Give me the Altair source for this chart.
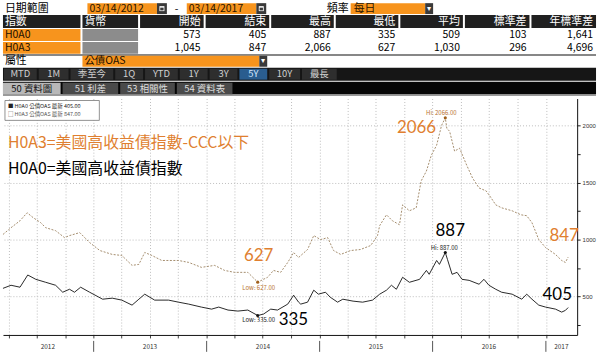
import altair as alt
import pandas as pd

# ---------------- data ----------------
H0A0_DATES = [
    "2012-03-14", "2012-04-09", "2012-05-08", "2012-06-02", "2012-06-28", "2012-07-30",
    "2012-08-31", "2012-09-23", "2012-10-15", "2012-10-31", "2012-11-20", "2012-12-19",
    "2013-01-30", "2013-03-02", "2013-04-02", "2013-05-05", "2013-05-27", "2013-06-15",
    "2013-07-17", "2013-08-31", "2013-10-02", "2013-11-04", "2013-12-15", "2014-01-17",
    "2014-02-09", "2014-03-11", "2014-04-12", "2014-05-14", "2014-06-15", "2014-07-04",
    "2014-07-27", "2014-08-18", "2014-09-20", "2014-10-09", "2014-10-25", "2014-11-01",
    "2014-11-23", "2014-12-13", "2014-12-28", "2015-01-20", "2015-02-04", "2015-02-28",
    "2015-03-17", "2015-04-19", "2015-05-20", "2015-06-21", "2015-07-14", "2015-08-05",
    "2015-08-21", "2015-09-06", "2015-09-26", "2015-10-18", "2015-11-20", "2015-12-12",
    "2015-12-21", "2016-01-14", "2016-01-23", "2016-02-11", "2016-02-18", "2016-03-04",
    "2016-03-20", "2016-04-05", "2016-04-28", "2016-05-30", "2016-06-15", "2016-07-01",
    "2016-07-23", "2016-08-11", "2016-09-14", "2016-10-15", "2016-10-31", "2016-11-17",
    "2016-12-09", "2016-12-31", "2017-02-01", "2017-02-21", "2017-03-05", "2017-03-14",
]
H0A0_VALUES = [
    573, 600, 583, 690, 652, 626,
    600, 539, 565, 539, 583, 539,
    478, 487, 470, 426, 478, 522,
    470, 470, 452, 435, 409, 391,
    409, 383, 374, 383, 335, 348,
    391, 383, 435, 513, 452, 435,
    452, 557, 522, 539, 496, 452,
    478, 461, 452, 470, 522, 557,
    600, 565, 670, 626, 652, 730,
    696, 817, 783, 887, 826, 696,
    713, 652, 643, 609, 652, 600,
    565, 539, 522, 478, 522, 478,
    426, 409, 391, 365, 380, 405,
]
H0A3_DATES = [
    "2012-03-14", "2012-04-09", "2012-05-08", "2012-05-31", "2012-06-20", "2012-07-14",
    "2012-07-30", "2012-08-31", "2012-09-29", "2012-10-15", "2012-11-17", "2012-12-19",
    "2013-01-21", "2013-03-02", "2013-04-02", "2013-05-05", "2013-05-27", "2013-06-15",
    "2013-07-08", "2013-08-09", "2013-10-02", "2013-11-04", "2013-12-15", "2014-01-27",
    "2014-02-28", "2014-04-01", "2014-05-14", "2014-06-15", "2014-07-17", "2014-08-05",
    "2014-08-28", "2014-09-20", "2014-10-09", "2014-10-25", "2014-11-23", "2014-12-13",
    "2015-01-04", "2015-01-27", "2015-02-15", "2015-03-10", "2015-04-11", "2015-05-13",
    "2015-06-15", "2015-07-07", "2015-07-14", "2015-08-05", "2015-08-24", "2015-09-16",
    "2015-09-26", "2015-10-18", "2015-11-09", "2015-11-25", "2015-12-12", "2015-12-28",
    "2016-01-14", "2016-01-30", "2016-02-11", "2016-02-16", "2016-02-25", "2016-03-12",
    "2016-03-28", "2016-04-20", "2016-05-09", "2016-05-30", "2016-06-22", "2016-07-08",
    "2016-07-23", "2016-08-11", "2016-09-14", "2016-10-12", "2016-10-31", "2016-11-17",
    "2016-12-09", "2016-12-31", "2017-02-01", "2017-02-21", "2017-03-05", "2017-03-14",
]
H0A3_VALUES = [
    1045, 1104, 1165, 1235, 1191, 1148,
    1104, 1078, 1017, 1035, 1061, 974,
    904, 870, 861, 774, 783, 887,
    861, 817, 817, 800, 757, 774,
    730, 713, 713, 627, 670, 730,
    713, 800, 887, 843, 913, 1035,
    1000, 1017, 904, 870, 904, 913,
    948, 1035, 1122, 1217, 1165, 1130,
    1304, 1252, 1278, 1513, 1600, 1739,
    1826, 2000, 2066, 1974, 1948, 1774,
    1800, 1652, 1539, 1452, 1426, 1365,
    1304, 1278, 1252, 1217, 1209, 1148,
    1000, 930, 870, 817, 800, 847,
]

SERIES = ["H0A0", "H0A3"]
TABLE_HEADERS = ["指數", "貨幣", "開始", "結束", "最高", "最低", "平均", "標準差", "年標準差"]
START_VALS = ["573", "1,045"]
END_VALS = ["405", "847"]
HIGH_VALS = ["887", "2,066"]
LOW_VALS = ["335", "627"]
AVG_VALS = ["509", "1,030"]
STD_VALS = ["103", "296"]
ANN_STD_VALS = ["1,641", "4,696"]
DATE_FROM = "03/14/2012"
DATE_TO = "03/14/2017"
FREQ_LABEL = "頻率"
FREQ = "每日"
RANGE_LABEL = "日期範圍"
FIELD_LABEL = "屬性"
FIELD = "公債OAS"
PERIOD_BUTTONS = ["MTD", "1M", "季至今", "1Q", "YTD", "1Y", "3Y", "5Y", "10Y", "最長"]
ACTIVE_PERIOD = "5Y"
TABS = ["50 資料圖", "51 利差", "53 相關性", "54 資料表"]
ACTIVE_TAB = "50 資料圖"
HEADINGS = ["H0A3=美國高收益債指數-CCC以下", "H0A0=美國高收益債指數"]
LEGEND_LINES = ["■ H0A0 公債OAS 最新  405.00", "□ H0A3 公債OAS 最新  847.00"]
YEAR_LABELS = ["2012", "2013", "2014", "2015", "2016", "2017"]
YEAR_LABEL_DATES = ["2012-08-06", "2013-07-02", "2014-07-02", "2015-07-02", "2016-07-01", "2017-02-20"]
YEAR_STARTS = ["2013-01-01", "2014-01-01", "2015-01-01", "2016-01-01", "2017-01-01"]

# ---------------- style / layout ----------------
CJK = "Noto Sans CJK TC"
ORANGE = "#F7941D"
TXT_ORANGE = "#E07F30"
DARK = "#202020"
LINE3_COLOR = "#a48d6e"

COL_X = [(0, 78), (80, 136), (138, 202), (204, 268), (270, 333),
         (335, 398), (400, 463), (465, 530), (532, 597)]
ROW_Y = [(27, 39), (40, 52)]
BTN_X = [(1, 34), (36, 66), (68, 111), (113, 141), (143, 176), (178, 206),
         (208, 236), (238, 266), (268, 299), (301, 336)]
TAB_X = [(0, 58), (60, 116), (118, 173), (175, 231)]

rects, texts = [], []


def R(x, x2, y, y2, fill):
    rects.append(dict(x=x, x2=x2, y=y, y2=y2, fill=fill))


def T(text, x, y, color="#000000", align="left", size=10.5):
    texts.append(dict(text=text, x=x, y=y, color=color, align=align, size=size))


# row 0 : date range / frequency
T(RANGE_LABEL, 2, 6.5, size=11)
R(85, 155, 1, 12, ORANGE); T(DATE_FROM, 87, 6.5, "#2a1500")
R(155, 165, 1, 12, "#3a3a3a"); R(157.5, 162.5, 4, 9, "#ffffff"); R(158.3, 161.7, 5.5, 8.3, "#3a3a3a")
T("-", 173, 6.5)
R(185, 255, 1, 12, ORANGE); T(DATE_TO, 187, 6.5, "#2a1500")
R(255, 265, 1, 12, "#3a3a3a"); R(257.5, 262.5, 4, 9, "#ffffff"); R(258.3, 261.7, 5.5, 8.3, "#3a3a3a")
T(FREQ_LABEL, 326, 6.5, size=11)
R(350, 425, 1, 12, ORANGE); T(FREQ, 353, 6.5, "#2a1500", size=11)
R(425, 433, 1, 12, "#3a3a3a"); T("▾", 429, 6.5, "#ffffff", "center", 8)

# rows 1-3 : statistics table
for i, (h, (x0, x1)) in enumerate(zip(TABLE_HEADERS, COL_X)):
    R(x0, x1, 13, 26, DARK)
    if i < 2:
        T(h, x0 + 2, 19.5, "#ffffff", "left", 11)
    else:
        T(h, x1 - 3, 19.5, "#ffffff", "right", 11)
value_cols = [START_VALS, END_VALS, HIGH_VALS, LOW_VALS, AVG_VALS, STD_VALS, ANN_STD_VALS]
for r, name in enumerate(SERIES):
    y0, y1 = ROW_Y[r]
    yc = (y0 + y1) / 2
    R(COL_X[0][0], COL_X[0][1], y0, y1, ORANGE)
    T(name, 2, yc, "#1a0f00")
    R(COL_X[1][0], COL_X[1][1], y0, y1, "#8c8c8c")
    for vals, (x0, x1) in zip(value_cols, COL_X[2:]):
        T(vals[r], x1 - 3, yc, "#000000", "right")
R(0, 597, 52.6, 53.6, "#111111")

# row 4 : field
T(FIELD_LABEL, 2, 59.5, size=11)
R(80, 258, 54, 65, ORANGE); T(FIELD, 82, 59.5, "#1a0f00")
R(258, 266, 54, 65, "#3a3a3a"); T("▾", 262, 59.5, "#ffffff", "center", 8)

# row 5 : period buttons
R(0, 597, 66, 79, "#161616")
for b, (x0, x1) in zip(PERIOD_BUTTONS, BTN_X):
    active = b == ACTIVE_PERIOD
    R(x0, x1, 67, 78, "#2a5d8f" if active else "#2e2e2e")
    T(b, (x0 + x1) / 2, 72.5, "#d6e8ff" if active else "#d0d0d0", "center", 9.5)

# row 6 : tabs
R(0, 597, 80, 93, "#060606")
for t, (x0, x1) in zip(TABS, TAB_X):
    active = t == ACTIVE_TAB
    R(x0, x1, 81, 93, "#b8b8b8" if active else "#4a4a4a")
    T(t, (x0 + x1) / 2, 87, "#111111" if active else "#dddddd", "center", 9.5)
R(0, 597, 93, 94.5, "#9a9a9a")

PX = alt.Scale(domain=[0, 600], nice=False, zero=False)
PY = alt.Scale(domain=[0, 95], nice=False, zero=False, reverse=True)

rect_df = pd.DataFrame(rects)
text_df = pd.DataFrame(texts)

top_layers = [
    alt.Chart(rect_df).mark_rect().encode(
        x=alt.X("x:Q", scale=PX, axis=None), x2="x2:Q",
        y=alt.Y("y:Q", scale=PY, axis=None), y2="y2:Q",
        color=alt.Color("fill:N", scale=None),
    )
]
for (align, size), sub in text_df.groupby(["align", "size"]):
    top_layers.append(
        alt.Chart(sub).mark_text(align=align, baseline="middle", fontSize=float(size), font=CJK).encode(
            x=alt.X("x:Q", scale=PX, axis=None),
            y=alt.Y("y:Q", scale=PY, axis=None),
            text="text:N",
            color=alt.Color("color:N", scale=None),
        )
    )
top = alt.layer(*top_layers).properties(width=600, height=95)

# ---------------- main chart ----------------
df0 = pd.DataFrame({"date": H0A0_DATES, "value": H0A0_VALUES})
df3 = pd.DataFrame({"date": H0A3_DATES, "value": H0A3_VALUES})

QUARTER_TICKS = [alt.DateTime(year=y, month=m, date=1, utc=True)
                 for y in range(2012, 2018) for m in (1, 4, 7, 10)
                 if (y, m) > (2012, 3) and (y, m) < (2017, 4)]

X_ENC = alt.X(
    "date:T",
    title=None,
    scale=alt.Scale(domain=[alt.DateTime(year=2012, month=3, date=14, utc=True),
                            alt.DateTime(year=2017, month=4, date=12, utc=True)]),
    axis=alt.Axis(values=QUARTER_TICKS, labels=False, title=None, tickSize=3,
                  tickColor="#444444", domainColor="#111111", grid=True,
                  gridColor="#bdbdbd", gridDash=[1, 2]),
)
Y_ENC = alt.Y(
    "value:Q",
    title=None,
    scale=alt.Scale(domain=[165, 2235], nice=False, zero=False),
    axis=alt.Axis(orient="right", values=[250, 500, 750, 1000, 1250, 1500, 1750, 2000],
                  format="d", labelExpr="datum.value % 500 == 0 ? datum.label : ''",
                  labelFontSize=6, labelColor="#333333", labelPadding=2, tickSize=3,
                  tickColor="#222222", domainColor="#111111", grid=True, gridColor="#bdbdbd",
                  gridDash=[1, 2],
                  gridOpacity={"condition": {"test": "datum.value % 500 === 0", "value": 1}, "value": 0},
                  title=None),
)

line3 = alt.Chart(df3).mark_line(color=LINE3_COLOR, strokeWidth=1, strokeDash=[2, 1.5]).encode(x=X_ENC, y=Y_ENC)
line0 = alt.Chart(df0).mark_line(color="#111111", strokeWidth=0.9).encode(x=X_ENC, y=Y_ENC)

hi0 = df0.loc[[df0["value"].idxmax()]]
lo0 = df0.loc[[df0["value"].idxmin()]]
hi3 = df3.loc[[df3["value"].idxmax()]]
lo3 = df3.loc[[df3["value"].idxmin()]]
end0 = df0.iloc[[-1]]
end3 = df3.iloc[[-1]]


def dot(d, color):
    return alt.Chart(d).mark_circle(size=10, color=color, opacity=1).encode(x=X_ENC, y=Y_ENC)


def label(d, text, color, dx, dy, size, font=CJK):
    dd = d.assign(label=text)
    return alt.Chart(dd).mark_text(color=color, dx=dx, dy=dy, fontSize=size, font=font,
                                   align="center", baseline="middle").encode(
        x=X_ENC, y=Y_ENC, text="label:N")


def small(d, prefix):
    return f"{prefix}: {float(d['value'].iloc[0]):.2f}"


def big(d):
    return str(int(d["value"].iloc[0]))


ann_layers = [
    dot(hi3, "#a0601e"), dot(lo3, "#a0601e"), dot(hi0, "#111111"), dot(lo0, "#111111"),
    label(hi3, small(hi3, "Hi"), "#b8732f", -4, -5, 6),
    label(lo3, small(lo3, "Low"), "#b8732f", 1, 6, 6),
    label(hi0, small(hi0, "Hi"), "#222222", -1, -5, 6),
    label(lo0, small(lo0, "Low"), "#222222", 1, 5, 6),
    label(hi3, big(hi3), TXT_ORANGE, -29, 10, 17, "Lato"),
    label(lo3, big(lo3), TXT_ORANGE, 1, -26, 17, "Lato"),
    label(hi0, big(hi0), "#000000", 5, -22, 17, "Lato"),
    label(lo0, big(lo0), "#000000", 36, 5, 17, "Lato"),
    label(end0, big(end0), "#000000", -11, -13, 17, "Lato"),
    label(end3, big(end3), TXT_ORANGE, -4, -21, 17, "Lato"),
]

one = pd.DataFrame({"k": [0]})
legend_box = alt.Chart(one).mark_rect(fill="#ffffff", stroke="#777777", strokeWidth=0.8).encode(
    x=alt.value(2), x2=alt.value(97), y=alt.value(2), y2=alt.value(22))


def fixed_text(text, x, y, size, color):
    return alt.Chart(pd.DataFrame({"t": [text]})).mark_text(
        align="left", baseline="middle", fontSize=size, font=CJK, color=color).encode(
        x=alt.value(x), y=alt.value(y), text="t:N")


legend_texts = [fixed_text(LEGEND_LINES[0], 5, 7.5, 5.5, "#222222"),
                fixed_text(LEGEND_LINES[1], 5, 15.5, 5.5, "#555555")]
headings = [fixed_text(HEADINGS[0], 5, 45, 16, TXT_ORANGE),
            fixed_text(HEADINGS[1], 5, 71, 16, "#000000")]

year_labels = alt.Chart(pd.DataFrame({"date": YEAR_LABEL_DATES, "t": YEAR_LABELS})).mark_text(
    fontSize=6.5, font=CJK, color="#333333", baseline="middle").encode(
    x=X_ENC, y=alt.value(250), text="t:N")
year_sep = alt.Chart(pd.DataFrame({"date": YEAR_STARTS})).mark_rule(color="#555555", strokeWidth=1).encode(
    x=X_ENC, y=alt.value(244), y2=alt.value(255))

bottom = alt.layer(
    line3, line0, *ann_layers, legend_box, *legend_texts, *headings, year_labels, year_sep
).properties(width=578, height=238)

chart = alt.vconcat(top, bottom, spacing=0).properties(
    padding=0, background="#ffffff"
).configure_view(stroke="transparent")

chart.save("out.html", embed_options={"renderer": "svg", "actions": False})
